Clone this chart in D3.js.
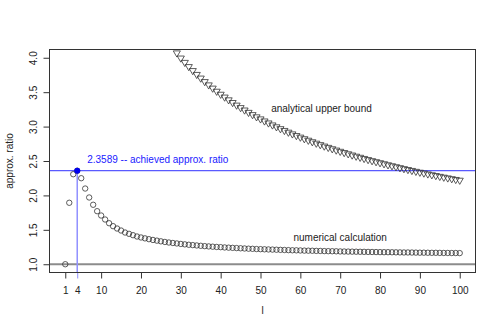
<!DOCTYPE html>
<html>
<head>
<meta charset="utf-8">
<script src="https://cdn.jsdelivr.net/npm/d3@7"></script>
<style>
  body { margin: 0; background: #fff; }
  text { font-family: "Liberation Sans", Arial, sans-serif; }
</style>
</head>
<body>
<svg class="d3-svg"></svg>
<script>
// numerical calculation, l = 1..100
let numL = d3.range(1, 101);
let numerical = [1.000, 1.893, 2.308, 2.3589, 2.250, 2.100, 1.970, 1.864, 1.771, 1.708,
  1.650, 1.596, 1.553, 1.519, 1.490, 1.461, 1.442, 1.422, 1.403, 1.389,
  1.376, 1.364, 1.353, 1.343, 1.333, 1.324, 1.316, 1.309, 1.302, 1.295,
  1.289, 1.283, 1.278, 1.273, 1.268, 1.263, 1.259, 1.255, 1.251, 1.248,
  1.244, 1.241, 1.238, 1.235, 1.232, 1.229, 1.226, 1.224, 1.221, 1.219,
  1.217, 1.215, 1.213, 1.211, 1.209, 1.207, 1.205, 1.203, 1.202, 1.200,
  1.198, 1.197, 1.196, 1.194, 1.193, 1.191, 1.190, 1.189, 1.188, 1.186,
  1.185, 1.184, 1.183, 1.182, 1.181, 1.180, 1.179, 1.178, 1.177, 1.176,
  1.175, 1.175, 1.174, 1.173, 1.172, 1.171, 1.171, 1.170, 1.169, 1.168,
  1.168, 1.167, 1.166, 1.166, 1.165, 1.164, 1.164, 1.163, 1.163, 1.162];

// analytical upper bound, l = 29..100 (smaller l is off the top)
let boundL = d3.range(29, 101);
let bound = [4.070, 3.995, 3.932, 3.871, 3.813, 3.757, 3.704, 3.653, 3.605,
  3.558, 3.513, 3.469, 3.428, 3.388, 3.349, 3.311, 3.275, 3.240, 3.206,
  3.173, 3.141, 3.111, 3.081, 3.052, 3.023, 2.996, 2.969, 2.943, 2.918,
  2.893, 2.869, 2.846, 2.823, 2.801, 2.779, 2.758, 2.737, 2.716, 2.697,
  2.677, 2.658, 2.640, 2.622, 2.604, 2.586, 2.569, 2.553, 2.536, 2.520,
  2.504, 2.489, 2.474, 2.459, 2.444, 2.430, 2.416, 2.402, 2.388, 2.375,
  2.362, 2.349, 2.336, 2.324, 2.311, 2.299, 2.288, 2.276, 2.264, 2.253,
  2.242, 2.231, 2.220];

let achievedL = 4;
let achieved = 2.3589;

let xTicks = [1, 4, 10, 20, 30, 40, 50, 60, 70, 80, 90, 100];
let yTicks = [1.0, 1.5, 2.0, 2.5, 3.0, 3.5, 4.0];

let width  = 501;
let height = 317;
let pLeft = 49.5, pRight = 475.5, pTop = 49.5, pBottom = 272.5;

let svg = d3.select(".d3-svg").attr("width", width).attr("height", height);
svg.append("rect").attr("width", width).attr("height", height).attr("fill", "#fff");

// R style 4% padding around the data range
let x = d3.scaleLinear().domain([1 - 0.04 * 99, 100 + 0.04 * 99]).range([pLeft, pRight]);
let y = d3.scaleLinear().domain([1 - 0.04 * 3, 4 + 0.04 * 3]).range([pBottom, pTop]);

svg.append("defs").append("clipPath").attr("id", "plot")
  .append("rect")
  .attr("x", pLeft).attr("y", pTop)
  .attr("width", pRight - pLeft).attr("height", pBottom - pTop);

let plot = svg.append("g").attr("clip-path", "url(#plot)");

// reference lines
plot.append("line")
  .attr("x1", pLeft).attr("x2", pRight)
  .attr("y1", y(1)).attr("y2", y(1))
  .attr("stroke", "#8c8c8c").attr("stroke-width", 2);

plot.append("line")
  .attr("x1", pLeft).attr("x2", pRight)
  .attr("y1", y(achieved)).attr("y2", y(achieved))
  .attr("stroke", "#3030ff").attr("stroke-width", 1);

plot.append("line")
  .attr("x1", x(achievedL)).attr("x2", x(achievedL))
  .attr("y1", y(achieved)).attr("y2", pBottom)
  .attr("stroke", "#9090ff").attr("stroke-width", 1.5);

// numerical calculation
plot.selectAll("circle.num")
  .data(numerical)
  .enter().append("circle")
  .attr("class", "num")
  .attr("cx", function(d, i) { return x(numL[i]); })
  .attr("cy", function(d) { return y(d); })
  .attr("r", 2.7)
  .attr("fill", "none")
  .attr("stroke", "#333")
  .attr("stroke-width", 0.8);

// analytical upper bound, down triangles
let tri = d3.symbol().type(d3.symbolTriangle).size(22);
plot.selectAll("path.bound")
  .data(bound)
  .enter().append("path")
  .attr("class", "bound")
  .attr("d", tri)
  .attr("transform", function(d, i) {
    return "translate(" + x(boundL[i]) + "," + y(d) + ") rotate(180)";
  })
  .attr("fill", "none")
  .attr("stroke", "#333")
  .attr("stroke-width", 0.8);

plot.append("circle")
  .attr("cx", x(achievedL))
  .attr("cy", y(achieved))
  .attr("r", 3)
  .attr("fill", "#0000ee");

// axes
let xAxis = svg.append("g")
  .attr("transform", "translate(0," + pBottom + ")")
  .call(d3.axisBottom(x).tickValues(xTicks).tickSize(6).tickPadding(8).tickFormat(d3.format("d")));
xAxis.select(".domain").attr("d", "M" + x(1) + ",0H" + x(100)).attr("stroke", "#333");
xAxis.selectAll(".tick line").attr("stroke", function(d) { return d === achievedL ? "#9090ff" : "#333"; });
xAxis.selectAll(".tick text").attr("font-size", 10).attr("fill", "#222");

let yAxis = svg.append("g")
  .attr("transform", "translate(" + pLeft + ",0)")
  .call(d3.axisLeft(y).tickValues(yTicks).tickSize(6).tickFormat(d3.format(".1f")));
yAxis.select(".domain").attr("d", "M0," + y(1) + "V" + y(4)).attr("stroke", "#333");
yAxis.selectAll(".tick line").attr("stroke", "#333");
yAxis.selectAll(".tick text")
  .attr("font-size", 10).attr("fill", "#222")
  .attr("x", null)
  .attr("text-anchor", "middle")
  .attr("transform", "translate(-16,0) rotate(-90)")
  .attr("dy", "0.35em");

// frame
svg.append("rect")
  .attr("x", pLeft).attr("y", pTop)
  .attr("width", pRight - pLeft).attr("height", pBottom - pTop)
  .attr("fill", "none").attr("stroke", "#333");

// labels
svg.append("text")
  .attr("x", (pLeft + pRight) / 2).attr("y", 314)
  .attr("text-anchor", "middle").attr("font-size", 10).attr("fill", "#222")
  .text("l");

svg.append("text")
  .attr("transform", "translate(13," + (pTop + pBottom) / 2 + ") rotate(-90)")
  .attr("text-anchor", "middle").attr("font-size", 10).attr("fill", "#222")
  .text("approx. ratio");

svg.append("text")
  .attr("x", x(6.5)).attr("y", y(2.52)).attr("dy", "0.35em")
  .attr("font-size", 10).attr("fill", "#2020ff")
  .text(achieved + " -- achieved approx. ratio");

svg.append("text")
  .attr("x", x(65.3)).attr("y", y(3.26)).attr("dy", "0.35em")
  .attr("text-anchor", "middle").attr("font-size", 10).attr("fill", "#222")
  .text("analytical upper bound");

svg.append("text")
  .attr("x", x(70)).attr("y", y(1.39)).attr("dy", "0.35em")
  .attr("text-anchor", "middle").attr("font-size", 10).attr("fill", "#222")
  .text("numerical calculation");
</script>
</body>
</html>
